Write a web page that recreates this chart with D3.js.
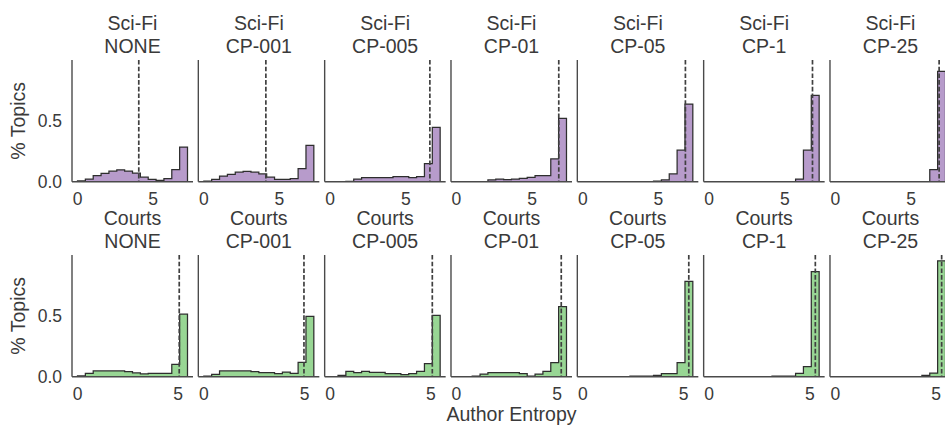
<!DOCTYPE html>
<html>
<head>
<meta charset="utf-8">
<script src="https://cdn.jsdelivr.net/npm/d3@7"></script>
<style>
  html, body { margin: 0; padding: 0; background: #fff; }
  svg { display: block; }
  text { font-family: "Liberation Sans", Arial, sans-serif; fill: #3a3a3a; }
</style>
</head>
<body>
<svg id="chart" width="945" height="425"></svg>
<script>
// ---------------- data ----------------
const conditions = ["NONE", "CP-001", "CP-005", "CP-01", "CP-05", "CP-1", "CP-25"];
const datasets = ["Sci-Fi", "Courts"];
const nBins = 14;
const sciFiRange = [0, 7.27];
const courtsRange = [0, 5.46];
const xTicks = [0, 5];
const yTicks = [0.0, 0.5];
const yTickLabels = ["0.0", "0.5"];

// fraction of topics per bin (14 equal bins over each dataset's range)
const sciFiValues = [
  [0.006, 0.022, 0.050, 0.067, 0.086, 0.097, 0.087, 0.071, 0.037, 0.019, 0.010, 0.025, 0.098, 0.283],
  [0.005, 0.019, 0.046, 0.060, 0.078, 0.085, 0.078, 0.063, 0.037, 0.018, 0.018, 0.025, 0.106, 0.297],
  [0, 0, 0.003, 0.022, 0.033, 0.033, 0.033, 0.033, 0.041, 0.041, 0.033, 0.041, 0.147, 0.444],
  [0, 0, 0, 0, 0.014, 0.022, 0.016, 0.022, 0.027, 0.036, 0.049, 0.049, 0.186, 0.517],
  [0, 0, 0, 0, 0, 0, 0, 0, 0, 0.005, 0.014, 0.063, 0.257, 0.634],
  [0, 0, 0, 0, 0, 0, 0, 0, 0, 0, 0, 0.022, 0.257, 0.704],
  [0, 0, 0, 0, 0, 0, 0, 0, 0, 0, 0, 0, 0.098, 0.900]
];
const courtsValues = [
  [0.006, 0.027, 0.047, 0.047, 0.047, 0.047, 0.041, 0.031, 0.023, 0.028, 0.028, 0.028, 0.100, 0.510],
  [0.005, 0.019, 0.047, 0.047, 0.047, 0.047, 0.041, 0.033, 0.033, 0.025, 0.038, 0.028, 0.117, 0.492],
  [0, 0.011, 0.044, 0.033, 0.044, 0.036, 0.036, 0.025, 0.025, 0.016, 0.025, 0.044, 0.107, 0.500],
  [0, 0, 0.005, 0.022, 0.033, 0.033, 0.033, 0.033, 0.025, 0.005, 0.022, 0.044, 0.115, 0.571],
  [0, 0, 0, 0, 0, 0, 0.005, 0.005, 0.005, 0.011, 0.025, 0.025, 0.115, 0.778],
  [0, 0, 0, 0, 0, 0, 0, 0, 0.005, 0.005, 0.005, 0.027, 0.082, 0.858],
  [0, 0, 0, 0, 0, 0, 0, 0, 0, 0, 0, 0.011, 0.030, 0.946]
];
// dashed reference lines (median author entropy)
const sciFiMedians = [4.05, 4.10, 6.59, 6.76, 6.78, 6.83, 6.85];
const courtsMedians = [5.05, 4.97, 5.07, 5.20, 5.26, 5.27, 5.27];

// ---------------- layout ----------------
const svg = d3.select("#chart");
const panelW = 121, panelH = 121.7;
const panelStep = 126.33;
const left0 = 72;
const rowTops = [60, 255];
const fills = ["#b79bcb", "#98d694"];
const fontTitle = 19.5, fontTick = 17.5, fontLabel = 19.5;

const rows = [
  { name: datasets[0], range: sciFiRange, values: sciFiValues, medians: sciFiMedians },
  { name: datasets[1], range: courtsRange, values: courtsValues, medians: courtsMedians }
];

const allMax = d3.max(rows.flatMap(r => r.values.flat()));
const yTop = allMax * 1.05;

rows.forEach((row, ri) => {
  const top = rowTops[ri];
  const pad = (row.range[1] - row.range[0]) * 0.05;
  const x = d3.scaleLinear().domain([row.range[0] - pad, row.range[1] + pad]).range([0, panelW]);
  const y = d3.scaleLinear().domain([0, yTop]).range([panelH, 0]);
  const binW = (row.range[1] - row.range[0]) / nBins;
  const edges = d3.range(nBins + 1).map(i => row.range[0] + i * binW);

  conditions.forEach((cond, ci) => {
    const g = svg.append("g").attr("transform", `translate(${left0 + ci * panelStep},${top})`);
    const vals = row.values[ci];

    // stepfilled area
    const first = vals.findIndex(v => v > 0);
    let last = vals.length - 1; while (last > 0 && vals[last] <= 0) last--;
    const pts = [[x(edges[first]), y(0)]];
    for (let i = first; i <= last; i++) {
      pts.push([x(edges[i]), y(vals[i])]);
      pts.push([x(edges[i + 1]), y(vals[i])]);
    }
    pts.push([x(edges[last + 1]), y(0)]);
    g.append("path")
      .attr("d", "M" + pts.map(p => p.join(",")).join("L") + "Z")
      .attr("fill", fills[ri])
      .attr("stroke", "none");
    g.append("path")
      .attr("d", "M" + pts.map(p => p.join(",")).join("L"))
      .attr("fill", "none")
      .attr("stroke", "#2e2e2e")
      .attr("stroke-width", 1.25)
      .attr("stroke-linejoin", "miter");

    // dashed median line
    g.append("line")
      .attr("x1", x(row.medians[ci])).attr("x2", x(row.medians[ci]))
      .attr("y1", 0).attr("y2", panelH)
      .attr("stroke", "#404040")
      .attr("stroke-width", 1.7)
      .attr("stroke-dasharray", "4.6,2.1");

    // spines
    g.append("line").attr("x1", 0).attr("x2", 0).attr("y1", 0).attr("y2", panelH)
      .attr("stroke", "#4a4a4a").attr("stroke-width", 1.4);
    g.append("line").attr("x1", 0).attr("x2", panelW).attr("y1", panelH).attr("y2", panelH)
      .attr("stroke", "#4a4a4a").attr("stroke-width", 1.4);

    // x ticks
    g.selectAll(".xt").data(xTicks).enter().append("text")
      .attr("x", d => x(d)).attr("y", panelH + 23.3)
      .attr("text-anchor", "middle")
      .attr("font-size", fontTick)
      .text(d => d);

    // y ticks (first column only)
    if (ci === 0) {
      g.selectAll(".yt").data(yTicks).enter().append("text")
        .attr("x", -10).attr("y", d => y(d) + 6.5)
        .attr("text-anchor", "end")
        .attr("font-size", fontTick)
        .text((d, i) => yTickLabels[i]);
      g.append("text")
        .attr("transform", `translate(${25 - (left0)},${panelH / 2}) rotate(-90)`)
        .attr("text-anchor", "middle")
        .attr("font-size", fontLabel)
        .text("% Topics");
    }

    // titles
    g.append("text").attr("x", panelW / 2).attr("y", -30)
      .attr("text-anchor", "middle").attr("font-size", fontTitle).text(row.name);
    g.append("text").attr("x", panelW / 2).attr("y", -7)
      .attr("text-anchor", "middle").attr("font-size", fontTitle).text(cond);
  });
});

// x axis label
svg.append("text")
  .attr("x", left0 + 3 * panelStep + panelW / 2)
  .attr("y", 420.6)
  .attr("text-anchor", "middle")
  .attr("font-size", fontLabel)
  .text("Author Entropy");
</script>
</body>
</html>
